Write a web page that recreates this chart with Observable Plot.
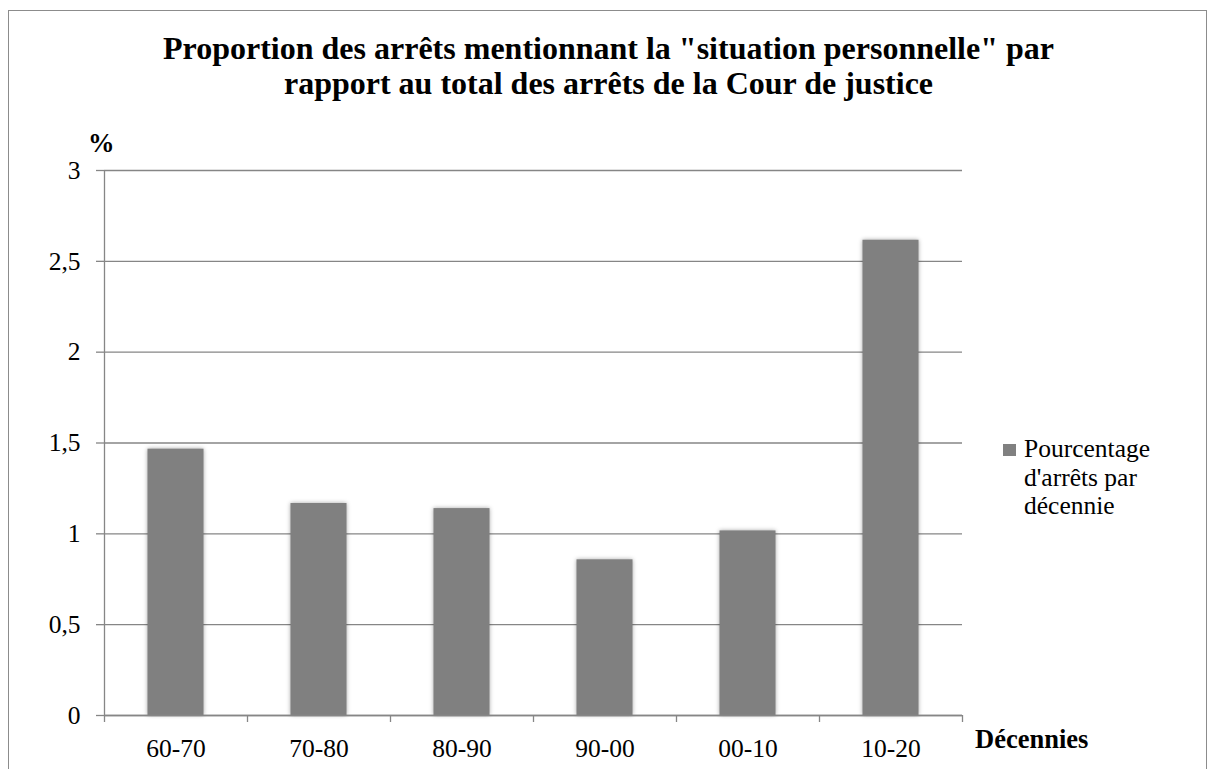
<!DOCTYPE html>
<html>
<head>
<meta charset="utf-8">
<script src="https://cdn.jsdelivr.net/npm/d3@7"></script>
<script src="https://cdn.jsdelivr.net/npm/@observablehq/plot@0.6"></script>
<style>
  html, body { margin: 0; padding: 0; background: #fff; }
  #wrap { position: relative; width: 1211px; height: 769px; overflow: hidden; font-family: 'Liberation Serif', serif; color: #000; }
  #frame { position: absolute; left: 8px; top: 10px; width: 1199px; height: 800px; border: 1px solid #8c8c8c; box-sizing: border-box; }
  #title { position: absolute; left: 0; top: 31px; width: 1217px; text-align: center; font-weight: bold; font-size: 32px; line-height: 35px; }
  #ylab { position: absolute; left: 88px; top: 130px; font-weight: bold; font-size: 26.5px; line-height: 26.5px; }
  #xlab { position: absolute; left: 975px; top: 726px; font-weight: bold; font-size: 26.5px; line-height: 26.5px; }
  #legend { position: absolute; left: 1003px; top: 435px; font-size: 25.5px; line-height: 28.5px; }
  #legend .sw { position: absolute; left: 0; top: 9px; width: 13px; height: 12px; background: #808080; }
  #legend .txt { position: absolute; left: 21px; top: 0; white-space: nowrap; }
  #chart { position: absolute; left: 0; top: 0; }
  #chart g[aria-label="rect"] rect { filter: drop-shadow(0 0 2px rgba(0,0,0,0.35)); }
</style>
</head>
<body>
<div id="wrap">
  <div id="frame"></div>
  <div id="chart"></div>
  <div id="title">Proportion des arrêts mentionnant la "situation personnelle" par<br>rapport au total des arrêts de la Cour de justice</div>
  <div id="ylab">%</div>
  <div id="xlab">Décennies</div>
  <div id="legend"><div class="sw"></div><div class="txt">Pourcentage<br>d'arrêts par<br>décennie</div></div>
</div>
<script>
const categories = ["60-70", "70-80", "80-90", "90-00", "00-10", "10-20"];
const values = [1.466, 1.167, 1.139, 0.857, 1.016, 2.616];
const yTicks = [0, 0.5, 1, 1.5, 2, 2.5, 3];

const data = categories.map((c, i) => ({cat: c, i: i, i2: i + 1, value: values[i]}));
const fmt = d => String(d).replace(".", ",");
const axisColor = "#868686";

const chart = Plot.plot({
  width: 1211,
  height: 769,
  marginLeft: 104,
  marginRight: 249,
  marginTop: 170,
  marginBottom: 54,
  style: {fontFamily: "'Liberation Serif', serif", fontSize: "25.5px", color: "#000", background: "transparent", overflow: "visible"},
  x: {domain: [0, categories.length]},
  y: {domain: [0, 3]},
  marks: [
    Plot.gridY({ticks: yTicks, stroke: axisColor, strokeOpacity: 1, strokeWidth: 1.3}),
    Plot.rectY(data, {x1: "i", x2: "i2", y: "value", insetLeft: 43.5, insetRight: 43.5, fill: "#808080"}),
    Plot.ruleX([0], {y1: 0, y2: 3, stroke: axisColor, strokeWidth: 1.3}),
    Plot.ruleY([0], {stroke: axisColor, strokeWidth: 1.3}),
    Plot.axisY({ticks: yTicks, tickSize: 8, tickPadding: 16, tickFormat: fmt, stroke: axisColor, strokeWidth: 1.3, label: null}),
    Plot.axisX({ticks: d3.range(categories.length + 1), tickSize: 7, tickFormat: () => "", stroke: axisColor, strokeWidth: 1.3, label: null}),
    Plot.axisX({ticks: categories.map((_, i) => i + 0.5), tickSize: 0, tickPadding: 23, tickFormat: d => categories[Math.floor(d)], label: null})
  ]
});
document.getElementById("chart").appendChild(chart);
</script>
</body>
</html>
